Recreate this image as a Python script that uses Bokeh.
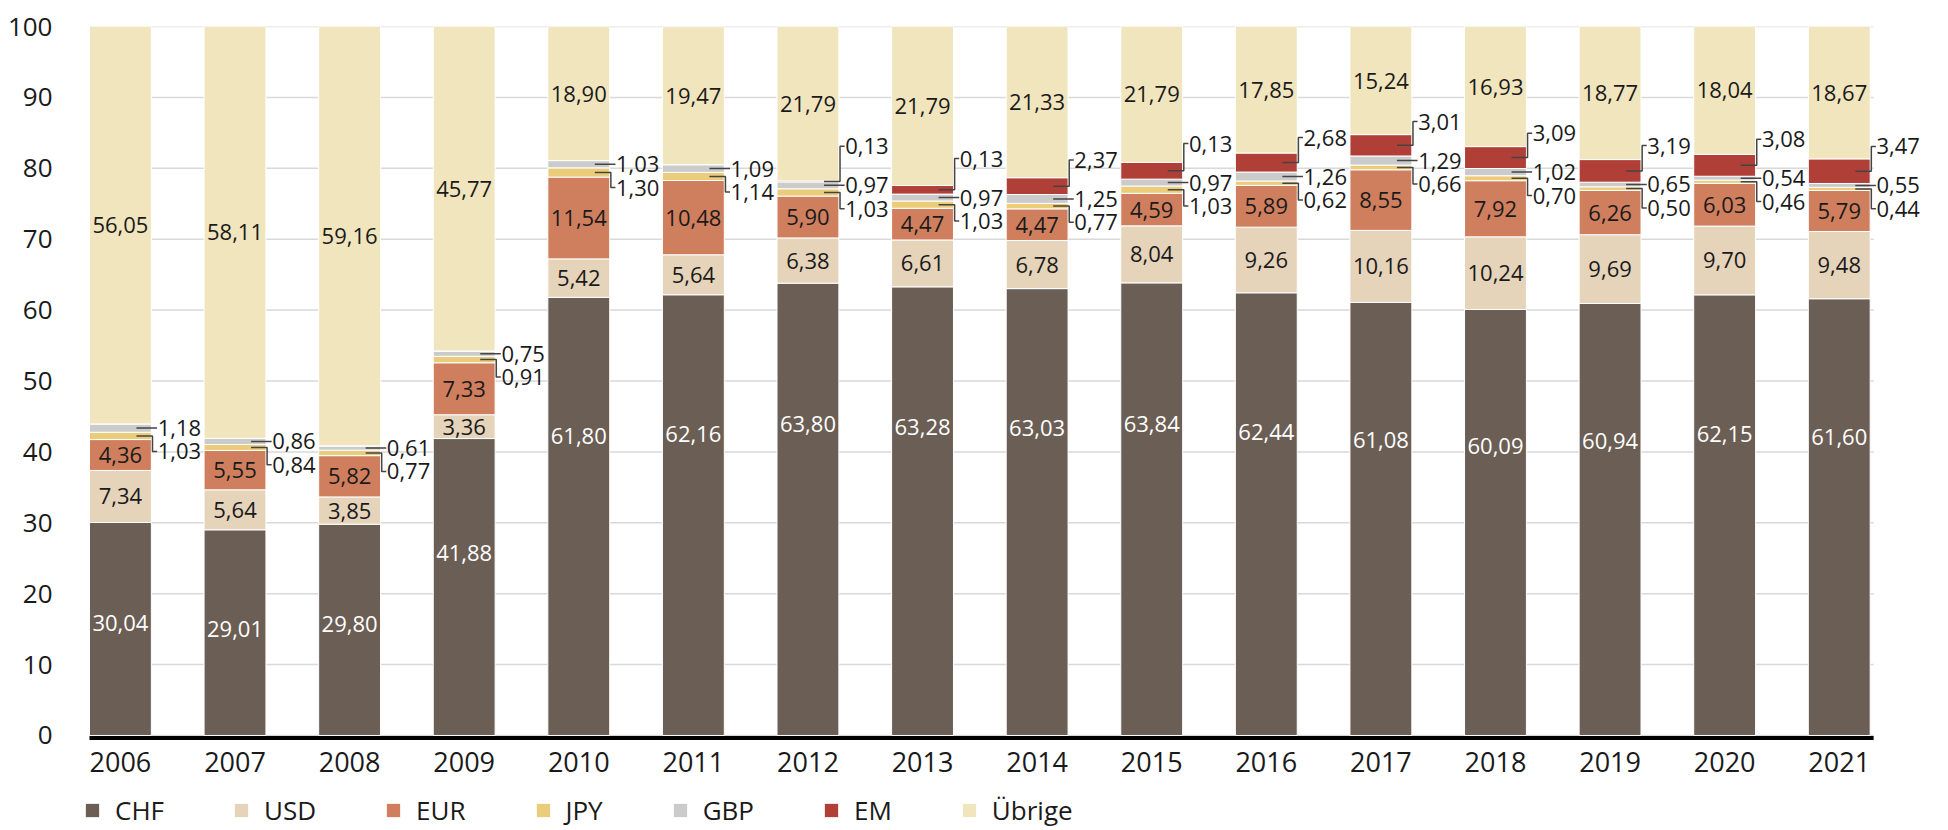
from bokeh.plotting import figure
from bokeh.models import ColumnDataSource, Range1d, FixedTicker, Legend, LegendItem
from bokeh.core.properties import value
from bokeh.embed import file_html
from bokeh.resources import INLINE

years = ["2006", "2007", "2008", "2009", "2010", "2011", "2012", "2013",
         "2014", "2015", "2016", "2017", "2018", "2019", "2020", "2021"]
chf = [30.04, 29.01, 29.80, 41.88, 61.80, 62.16, 63.80, 63.28, 63.03, 63.84, 62.44, 61.08, 60.09, 60.94, 62.15, 61.60]
usd = [7.34, 5.64, 3.85, 3.36, 5.42, 5.64, 6.38, 6.61, 6.78, 8.04, 9.26, 10.16, 10.24, 9.69, 9.70, 9.48]
eur = [4.36, 5.55, 5.82, 7.33, 11.54, 10.48, 5.90, 4.47, 4.47, 4.59, 5.89, 8.55, 7.92, 6.26, 6.03, 5.79]
jpy = [1.03, 0.84, 0.77, 0.91, 1.30, 1.14, 1.03, 1.03, 0.77, 1.03, 0.62, 0.66, 0.70, 0.50, 0.46, 0.44]
gbp = [1.18, 0.86, 0.61, 0.75, 1.03, 1.09, 0.97, 0.97, 1.25, 0.97, 1.26, 1.29, 1.02, 0.65, 0.54, 0.55]
# EM and Übrige: bar heights as drawn; printed labels differ in 2013 and 2015
em = [0, 0, 0, 0, 0, 0, 0.13, 1.21, 2.37, 2.36, 2.68, 3.01, 3.09, 3.19, 3.08, 3.47]
uebrige = [56.05, 58.11, 59.16, 45.77, 18.90, 19.47, 21.79, 22.43, 21.33, 19.17, 17.85, 15.24, 16.93, 18.77, 18.04, 18.67]
em_printed = [None, None, None, None, None, None, 0.13, 0.13, 2.37, 0.13, 2.68, 3.01, 3.09, 3.19, 3.08, 3.47]
uebrige_printed = [56.05, 58.11, 59.16, 45.77, 18.90, 19.47, 21.79, 21.79, 21.33, 21.79, 17.85, 15.24, 16.93, 18.77, 18.04, 18.67]

series_names = ["CHF", "USD", "EUR", "JPY", "GBP", "EM", "Übrige"]
colors = ["#6b5e54", "#e5d3ba", "#d07f5e", "#ebcc7a", "#cbcbcb", "#b03f38", "#f1e5be"]
y_ticks = [0, 10, 20, 30, 40, 50, 60, 70, 80, 90, 100]

FONT = value("Open Sans")


def fmt(v):
    return f"{v:.2f}".replace(".", ",")


n = len(years)
xs = list(range(n))
keys = ["chf", "usd", "eur", "jpy", "gbp", "em", "ueb"]
series = [chf, usd, eur, jpy, gbp, em, uebrige]
src = ColumnDataSource(dict(x=xs, **{k: s for k, s in zip(keys, series)}))

BAR_W = 0.54
half = BAR_W / 2
x_lo = -half
x_hi_grid = n - 1 + half + 0.03

# frame reaches the bottom of the canvas: year labels and legend sit inside it
p = figure(width=1944, height=828, output_backend="svg", toolbar_location=None,
           x_range=Range1d(x_lo - 0.122, 15.84), y_range=Range1d(-13.12, 100),
           min_border_left=75, min_border_right=9, min_border_top=26, min_border_bottom=0)
p.outline_line_color = None
p.background_fill_color = "white"

# grid lines limited to the bar area
p.segment(x0=[x_lo] * len(y_ticks), x1=[x_hi_grid] * len(y_ticks), y0=y_ticks, y1=y_ticks,
          line_color="#d9d9d9", line_width=1.5)

renderers = p.vbar_stack(keys, x="x", width=BAR_W, color=colors, source=src,
                         line_color="white", line_width=1)

# x axis base line
p.segment(x0=[x_lo], x1=[x_hi_grid], y0=[-0.35], y1=[-0.35], line_color="black", line_width=4)

# bottoms
bottoms = []
acc = [0.0] * n
for s in series:
    bottoms.append(list(acc))
    acc = [a + v for a, v in zip(acc, s)]

# inside labels: CHF (placed in the upper part of the bar), USD, EUR, Übrige (centred)
in_x, in_y, in_t, in_c = [], [], [], []
for i in range(n):
    in_x.append(i)
    in_y.append(chf[i] * 0.83 - 9)
    in_t.append(fmt(chf[i]))
    in_c.append("white")
for si, printed in [(1, usd), (2, eur), (6, uebrige_printed)]:
    for i in range(n):
        in_x.append(i)
        in_y.append(bottoms[si][i] + series[si][i] / 2)
        in_t.append(fmt(printed[i]))
        in_c.append("#1a1a1a")
p.text(x=in_x, y=in_y, text=in_t, text_color=in_c, text_align="center", text_baseline="middle",
       text_font=FONT, text_font_size="22px")

# outside labels with leader lines: JPY, GBP, EM
lx, ly, lt = [], [], []
mx, my = [], []
for i in range(n):
    gbp_c = bottoms[4][i] + gbp[i] / 2
    items = [(3, jpy[i], gbp_c - 3.3), (4, gbp[i], gbp_c)]
    if em_printed[i] is not None:
        items.append((5, em_printed[i], gbp_c + 5.5))
    for si, v, yl in items:
        yc = bottoms[si][i] + series[si][i] / 2
        xv = i + half + 0.01
        mx.append([i + half - 0.13, xv, xv, xv + 0.04])
        my.append([yc, yc, yl, yl])
        lx.append(i + half + 0.055)
        ly.append(yl)
        lt.append(fmt(v))
p.multi_line(xs=mx, ys=my, line_color="#444444", line_width=1.5)
p.text(x=lx, y=ly, text=lt, text_color="#1a1a1a", text_align="left", text_baseline="middle",
       text_font=FONT, text_font_size="22px")

# axes
p.xaxis.fixed_location = 0
p.xaxis.ticker = FixedTicker(ticks=xs)
p.xaxis.major_label_overrides = {i: y for i, y in enumerate(years)}
p.xaxis.axis_line_color = None
p.xaxis.major_tick_line_color = None
p.xaxis.minor_tick_line_color = None
p.xaxis.major_tick_out = 0
p.xaxis.major_label_standoff = 17
p.xaxis.major_label_text_font = "Open Sans"
p.xaxis.major_label_text_font_size = "27px"
p.xaxis.major_label_text_color = "#1a1a1a"

p.yaxis.ticker = FixedTicker(ticks=y_ticks)
p.yaxis.axis_line_color = None
p.yaxis.major_tick_line_color = None
p.yaxis.minor_tick_line_color = None
p.yaxis.major_label_standoff = 17
p.yaxis.major_label_text_font = "Open Sans"
p.yaxis.major_label_text_font_size = "26px"
p.yaxis.major_label_text_color = "#1a1a1a"

p.xgrid.grid_line_color = None
p.ygrid.grid_line_color = None

legend = Legend(items=[LegendItem(label=nm, renderers=[r]) for nm, r in zip(series_names, renderers)],
                location=(8, 0), orientation="horizontal", padding=0, margin=0,
                spacing=68, glyph_width=18, glyph_height=18, label_standoff=14,
                label_text_font="Open Sans", label_text_font_size="26px", label_height=18,
                label_text_color="#1a1a1a", border_line_color=None, background_fill_alpha=0)
p.add_layout(legend, "center")

open("out.html", "w").write(file_html(p, INLINE))
